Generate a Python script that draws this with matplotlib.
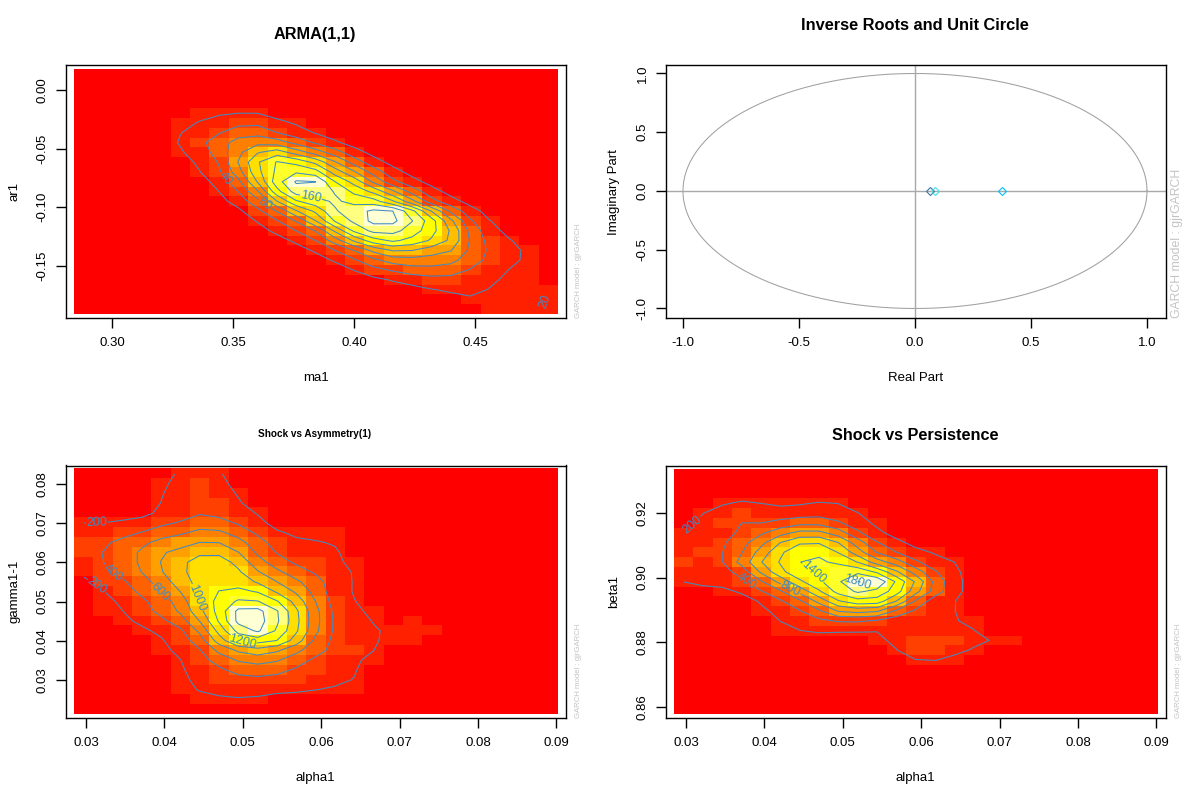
import numpy as np
import matplotlib
matplotlib.use("Agg")
from matplotlib import pyplot as plt
from matplotlib.colors import ListedColormap

plt.rcParams["font.family"] = ["Liberation Sans", "DejaVu Sans"]

W, H = 1200, 800
HEAT = ["#FF0000", "#FF2000", "#FF4000", "#FF6000", "#FF8000", "#FF9F00",
        "#FFBF00", "#FFDF00", "#FFFF00", "#FFFF2A", "#FFFF80", "#FFFFD5"]
LINE = "#3f8bc4"
MARK = "#c4c4c4"

# density grids, in colour bands (top row first)
arma_bands = [
    [0] * 25,
    [0] * 25,
    [0] * 25,
    [0] * 25,
    [0, 0, 0, 0, 0, 0, 1.1, 1.2, 1.3, 1.3, .9, 0, 0, 0, 0, 0, 0, 0, 0, 0, 0, 0, 0, 0, 0],
    [0, 0, 0, 0, 0, 1.1, 1.3, 1.6, 2.2, 2.3, 1.5, 1.2, .8, 0, 0, 0, 0, 0, 0, 0, 0, 0, 0, 0, 0],
    [0, 0, 0, 0, .8, 1.2, 1.7, 2.4, 3.2, 3.4, 2.4, 1.6, 1.1, .7, 0, 0, 0, 0, 0, 0, 0, 0, 0, 0, 0],
    [0, 0, 0, 0, .6, 1.4, 2.2, 3.3, 4.4, 4.7, 4.4, 3.3, 2.2, 1.3, .8, 0, 0, 0, 0, 0, 0, 0, 0, 0, 0],
    [0, 0, 0, 0, .5, 1.1, 1.8, 3.0, 4.7, 6.2, 7.2, 5.6, 4.4, 3.0, 1.6, .9, 0, 0, 0, 0, 0, 0, 0, 0, 0],
    [0, 0, 0, 0, 0, .8, 1.4, 2.4, 5.2, 7.6, 9.3, 8.6, 7.3, 5.2, 3.1, 1.6, .9, 0, 0, 0, 0, 0, 0, 0, 0],
    [0, 0, 0, 0, 0, .5, 1.2, 2.2, 4.5, 7.3, 9.0, 9.9, 9.5, 6.8, 5.2, 3.2, 1.6, .9, 0, 0, 0, 0, 0, 0, 0],
    [0, 0, 0, 0, 0, 0, .8, 1.5, 3.2, 6.4, 9.8, 11.9, 11.9, 8.7, 7.2, 4.6, 2.6, 1.5, .9, 0, 0, 0, 0, 0, 0],
    [0, 0, 0, 0, 0, 0, .5, 1.2, 2.4, 4.7, 8.5, 10.95, 10.9, 10.1, 8.4, 7.3, 5.3, 3.2, 1.6, .9, 0, 0, 0, 0, 0],
    [0, 0, 0, 0, 0, 0, 0, .9, 1.6, 3.2, 6.3, 8.8, 9.6, 10.4, 9.6, 9.4, 7.5, 5.2, 2.6, 1.5, .9, 0, 0, 0, 0],
    [0, 0, 0, 0, 0, 0, 0, .5, .9, 2.0, 3.6, 6.2, 7.6, 10.1, 10.8, 11.9, 11.9, 9.6, 6.4, 3.4, 1.6, .9, 0, 0, 0],
    [0, 0, 0, 0, 0, 0, 0, 0, .5, 1.3, 2.3, 3.6, 6.3, 9.2, 10.3, 11.9, 11.9, 10.2, 8.4, 5.4, 2.6, 1.2, .8, 0, 0],
    [0, 0, 0, 0, 0, 0, 0, 0, 0, .8, 1.5, 2.5, 3.5, 6.4, 9.3, 10.6, 10.5, 9.5, 8.0, 6.3, 3.4, 1.6, .9, 0, 0],
    [0, 0, 0, 0, 0, 0, 0, 0, 0, 0, .8, 1.4, 2.4, 4.3, 6.5, 8.4, 9.3, 8.5, 7.5, 6.2, 3.6, 2.0, 1.4, .8, 0],
    [0, 0, 0, 0, 0, 0, 0, 0, 0, 0, 0, .8, 1.3, 2.4, 3.6, 5.3, 6.4, 6.3, 5.5, 5.2, 3.5, 2.3, 1.4, 1.2, .7],
    [0, 0, 0, 0, 0, 0, 0, 0, 0, 0, 0, 0, .8, 1.3, 2.3, 3.4, 4.4, 4.5, 4.4, 4.2, 3.2, 2.2, 1.3, 1.2, .7],
    [0, 0, 0, 0, 0, 0, 0, 0, 0, 0, 0, 0, 0, .7, 1.2, 2.1, 2.6, 3.3, 3.4, 3.2, 2.4, 1.6, 1.2, 1.2, .7],
    [0, 0, 0, 0, 0, 0, 0, 0, 0, 0, 0, 0, 0, 0, .7, .9, 1.3, 1.6, 2.0, 2.0, 1.9, 1.3, 1.1, 1.2, .6],
    [0, 0, 0, 0, 0, 0, 0, 0, 0, 0, 0, 0, 0, 0, 0, 0, .7, .9, 1.2, 1.4, 1.4, 1.2, 1.1, 1.1, 1.2],
    [0, 0, 0, 0, 0, 0, 0, 0, 0, 0, 0, 0, 0, 0, 0, 0, 0, 0, .7, .9, 1.2, 1.3, 1.1, 1.1, 1.3],
    [0, 0, 0, 0, 0, 0, 0, 0, 0, 0, 0, 0, 0, 0, 0, 0, 0, 0, 0, .7, .9, 1.1, 1.2, 1.1, 1.3],
]

asym_bands = [
    [0, 0, 0, 0, .9, 1.6, 1.9, 1.5, .8, 0, 0, 0, 0, 0, 0, 0, 0, 0, 0, 0, 0, 0, 0, 0, 0],
    [0, 0, 0, 0, 1.2, 1.8, 2.4, 1.8, .95, 0, 0, 0, 0, 0, 0, 0, 0, 0, 0, 0, 0, 0, 0, 0, 0],
    [0, 0, 0, .8, 1.3, 1.9, 2.5, 1.9, 1.3, .7, 0, 0, 0, 0, 0, 0, 0, 0, 0, 0, 0, 0, 0, 0, 0],
    [0, 0, 0, .9, 1.4, 1.9, 2.6, 2.0, 1.5, .9, 0, 0, 0, 0, 0, 0, 0, 0, 0, 0, 0, 0, 0, 0, 0],
    [0, 0, .9, .9, 1.6, 1.9, 2.7, 2.3, 1.9, 1.3, .7, 0, 0, 0, 0, 0, 0, 0, 0, 0, 0, 0, 0, 0, 0],
    [1.5, 1.5, 1.6, 1.8, 2.4, 2.9, 3.5, 3.3, 2.6, 1.7, .9, 0, 0, 0, 0, 0, 0, 0, 0, 0, 0, 0, 0, 0, 0],
    [1.9, 1.9, 2.3, 2.8, 3.6, 3.9, 4.6, 4.5, 3.6, 2.5, 1.5, 1.2, 1.1, 1.1, .8, 0, 0, 0, 0, 0, 0, 0, 0, 0, 0],
    [2.3, 2.5, 3.2, 3.9, 4.6, 5.0, 5.6, 5.6, 4.7, 3.4, 2.0, 1.6, 1.5, 1.3, .9, 0, 0, 0, 0, 0, 0, 0, 0, 0, 0],
    [2.4, 2.8, 3.4, 4.4, 5.5, 5.9, 6.7, 6.7, 5.6, 3.8, 2.6, 1.9, 1.7, 1.6, .9, 0, 0, 0, 0, 0, 0, 0, 0, 0, 0],
    [1.9, 2.8, 3.3, 4.4, 5.6, 6.6, 7.7, 7.8, 6.6, 4.6, 3.4, 2.4, 2.2, 1.7, 1.0, 0, 0, 0, 0, 0, 0, 0, 0, 0, 0],
    [1.7, 2.6, 3.1, 4.2, 5.5, 6.6, 7.7, 7.8, 7.2, 5.6, 4.4, 3.4, 2.5, 1.8, 1.35, .7, 0, 0, 0, 0, 0, 0, 0, 0, 0],
    [.9, 2.0, 2.5, 3.5, 4.7, 6.3, 7.5, 7.8, 7.7, 6.7, 5.5, 4.4, 3.4, 1.9, 1.3, .7, 0, 0, 0, 0, 0, 0, 0, 0, 0],
    [.5, 1.3, 2.0, 3.1, 4.3, 5.5, 7.3, 8.4, 8.7, 8.3, 6.6, 5.3, 3.6, 1.9, 1.25, .8, 0, 0, 0, 0, 0, 0, 0, 0, 0],
    [0, 1.1, 1.5, 2.4, 3.4, 4.5, 7.2, 8.9, 9.9, 9.8, 8.5, 6.4, 4.1, 2.0, 1.4, .95, 0, 0, 0, 0, 0, 0, 0, 0, 0],
    [0, 1.0, 1.3, 2.2, 3.2, 4.3, 6.5, 8.8, 11.9, 11.9, 10.0, 7.2, 4.5, 2.3, 1.6, 1.1, .8, 0, 0, 0, 0, 0, 0, 0, 0],
    [0, .6, 1.2, 1.5, 2.4, 3.4, 5.5, 8.5, 11.9, 11.9, 10.0, 7.3, 4.5, 2.4, 1.7, 1.35, .9, 1.1, .8, 0, 0, 0, 0, 0, 0],
    [0, 0, .8, 1.2, 1.5, 2.3, 4.3, 7.4, 10.3, 11.9, 9.5, 7.2, 4.4, 2.4, 1.7, 1.5, 1.2, 1.2, 1.1, .7, 0, 0, 0, 0, 0],
    [0, 0, 0, .8, 1.2, 2.0, 3.3, 6.3, 8.8, 8.9, 8.6, 6.4, 3.6, 2.3, 1.7, 1.5, 1.1, 1.1, .7, 0, 0, 0, 0, 0, 0],
    [0, 0, 0, .6, 1.1, 1.6, 2.5, 4.5, 5.6, 6.4, 5.6, 4.4, 3.3, 2.3, 2.0, 1.4, .9, 0, 0, 0, 0, 0, 0, 0, 0],
    [0, 0, 0, 0, .8, 1.3, 2.2, 3.3, 4.3, 4.6, 4.3, 3.3, 2.4, 1.8, 1.5, 1.1, .7, 0, 0, 0, 0, 0, 0, 0, 0],
    [0, 0, 0, 0, .7, 1.2, 1.9, 2.4, 3.3, 3.5, 3.2, 2.5, 2.0, 1.7, 1.5, .9, 0, 0, 0, 0, 0, 0, 0, 0, 0],
    [0, 0, 0, 0, .5, 1.2, 1.6, 2.0, 2.2, 2.4, 2.2, 2.1, 1.9, 1.6, 1.4, .8, 0, 0, 0, 0, 0, 0, 0, 0, 0],
    [0, 0, 0, 0, 0, 1.1, 1.5, 1.7, 1.8, 1.8, 1.7, 1.6, 1.4, 1.3, 1.1, .7, 0, 0, 0, 0, 0, 0, 0, 0, 0],
    [0, 0, 0, 0, 0, .8, 1.1, 1.3, 1.4, 1.3, .9, .9, .8, .8, 0, 0, 0, 0, 0, 0, 0, 0, 0, 0, 0],
    [0] * 25,
]

pers_bands = [
    [0] * 25,
    [0] * 25,
    [0, 0, .7, .9, .8, 0, 0, .6, .6, 0, 0, 0, 0, 0, 0, 0, 0, 0, 0, 0, 0, 0, 0, 0, 0],
    [0, .7, 1.2, 1.4, 1.25, 1.1, 1.2, 1.4, 1.3, .8, 0, 0, 0, 0, 0, 0, 0, 0, 0, 0, 0, 0, 0, 0, 0],
    [.7, 1.3, 1.6, 2.0, 1.7, 1.6, 1.7, 1.9, 1.7, 1.3, .8, 0, 0, 0, 0, 0, 0, 0, 0, 0, 0, 0, 0, 0, 0],
    [.8, 1.5, 2.3, 2.6, 2.4, 2.9, 3.4, 3.4, 2.6, 1.7, 1.0, 0, 0, 0, 0, 0, 0, 0, 0, 0, 0, 0, 0, 0, 0],
    [1.3, 1.7, 1.9, 2.7, 3.5, 4.5, 5.4, 5.4, 4.4, 2.6, 1.4, .8, 0, 0, 0, 0, 0, 0, 0, 0, 0, 0, 0, 0, 0],
    [1.6, 1.7, 2.3, 3.3, 4.6, 6.4, 7.5, 7.6, 6.4, 4.4, 2.5, 1.5, .9, 0, 0, 0, 0, 0, 0, 0, 0, 0, 0, 0, 0],
    [1.7, 2.2, 2.4, 3.6, 5.5, 7.4, 8.7, 8.8, 7.5, 5.5, 3.5, 2.4, 1.5, 1.2, .8, 0, 0, 0, 0, 0, 0, 0, 0, 0, 0],
    [2.0, 1.9, 2.4, 4.4, 6.5, 7.7, 8.9, 9.0, 8.6, 7.5, 5.4, 4.4, 2.6, 1.6, 1.3, .8, 0, 0, 0, 0, 0, 0, 0, 0, 0],
    [1.4, 1.9, 1.9, 2.8, 5.3, 7.4, 8.6, 8.9, 9.7, 9.9, 8.6, 6.4, 4.4, 2.6, 1.4, .8, 0, 0, 0, 0, 0, 0, 0, 0, 0],
    [1.3, 1.7, 1.6, 2.1, 3.5, 5.4, 7.4, 8.6, 9.8, 11.9, 11.9, 8.8, 6.4, 3.4, 1.5, .8, 0, 0, 0, 0, 0, 0, 0, 0, 0],
    [.5, .8, 1.0, 1.3, 2.4, 3.4, 5.4, 7.4, 9.5, 10.4, 9.6, 8.4, 5.5, 3.3, 1.5, .8, 0, 0, 0, 0, 0, 0, 0, 0, 0],
    [0, 0, 0, .8, 1.2, 2.3, 3.3, 5.4, 7.5, 8.5, 8.6, 6.4, 3.4, 1.4, 1.3, .7, 0, 0, 0, 0, 0, 0, 0, 0, 0],
    [0, 0, 0, .5, 1.1, 1.4, 2.4, 3.4, 5.3, 5.5, 5.3, 3.3, 2.2, 1.4, 1.3, .9, 0, 0, 0, 0, 0, 0, 0, 0, 0],
    [0, 0, 0, 0, .7, 1.3, 1.6, 2.2, 2.5, 2.5, 2.2, 1.5, 1.4, 1.3, 1.3, 1.1, .7, 0, 0, 0, 0, 0, 0, 0, 0],
    [0, 0, 0, 0, .5, 1.1, 1.25, 1.4, 1.3, 1.3, 1.2, 1.2, 1.6, 1.8, 1.5, 1.3, .8, 0, 0, 0, 0, 0, 0, 0, 0],
    [0, 0, 0, 0, 0, .6, .7, .8, .7, .7, 1.0, 1.5, 2.6, 2.6, 2.0, 1.5, 1.3, 1.1, .5, 0, 0, 0, 0, 0, 0],
    [0, 0, 0, 0, 0, 0, 0, 0, 0, 0, .7, 1.2, 2.1, 2.2, 1.4, 1.2, .8, 0, 0, 0, 0, 0, 0, 0, 0],
    [0, 0, 0, 0, 0, 0, 0, 0, 0, 0, 0, .7, 1.25, 1.3, 1.1, .7, 0, 0, 0, 0, 0, 0, 0, 0, 0],
    [0, 0, 0, 0, 0, 0, 0, 0, 0, 0, 0, 0, .6, .6, 0, 0, 0, 0, 0, 0, 0, 0, 0, 0, 0],
    [0] * 25,
    [0] * 25,
    [0] * 25,
    [0] * 25,
]

arma_levels = [20, 40, 60, 80, 100, 120, 140, 160, 180]
asym_levels = [200, 400, 600, 800, 1000, 1200, 1400, 1600]
pers_levels = [200, 400, 600, 800, 1000, 1200, 1400, 1600, 1800]

# where the contour labels sit, in data units
arma_labels = {20: [(.4715, -.1782)], 40: [(.3471, -.0750)], 60: [(.3640, -.0937)], 160: [(.3822, -.0920)]}
asym_labels = {200: [(.0314, .0698), (.0308, .0524)], 400: [(.0331, .0560)], 600: [(.0384, .0496)],
               1000: [(.0430, .0504)], 1200: [(.0500, .0400)]}
pers_labels = {200: [(.0307, .9170)], 400: [(.0372, .8975)], 800: [(.0435, .8972)],
               1400: [(.0460, .9005)], 1800: [(.0518, .8960)]}

root_re = [0.065, 0.086, 0.376]
root_im = [0.0, 0.0, 0.0]
root_colors = ["#3a76a8", "#40e0e0", "#00bfff"]


def box(left, top, right, bottom):
    return fig.add_axes([left / W, 1 - bottom / H, (right - left) / W, (bottom - top) / H])


def style(ax, xlim, ylim, xticks, yticks, fmt, xlabel, ylabel):
    ax.set_xlim(xlim)
    ax.set_ylim(ylim)
    ax.set_xticks(xticks, [fmt % t for t in xticks])
    ax.set_yticks(yticks, [fmt % t for t in yticks], rotation=90, va="center")
    ax.tick_params(direction="out", length=7, width=1, labelsize=9.5)
    ax.tick_params(axis="x", pad=7)
    ax.tick_params(axis="y", pad=5)
    ax.set_xlabel(xlabel, fontsize=9.5)
    ax.set_ylabel(ylabel, fontsize=9.5)
    ax.xaxis.set_label_coords(0.5, -0.214)
    ax.yaxis.set_label_coords(-0.09, 0.5)
    for s in ax.spines.values():
        s.set_linewidth(1)


def soften(z):
    # the colour bands are coarse, ease the steps so contours run smooth
    p = np.pad(z, 1, mode="edge")
    z = .8 * p[1:-1, 1:-1] + .1 * (p[:-2, 1:-1] + p[2:, 1:-1])
    p = np.pad(z, 1, mode="edge")[1:-1]
    return .8 * p[:, 1:-1] + .1 * (p[:, :-2] + p[:, 2:])


def density(ax, bands, band, extent, levels, labels):
    z = np.array(bands, dtype=float) * band
    ax.imshow(z, extent=extent, origin="upper", aspect="auto", interpolation="nearest",
              cmap=ListedColormap(HEAT), vmin=0, vmax=12 * band, zorder=1)
    nrow, ncol = z.shape
    dx = (extent[1] - extent[0]) / ncol
    dy = (extent[3] - extent[2]) / nrow
    xs = extent[0] + dx * (np.arange(ncol) + .5)
    ys = extent[3] - dy * (np.arange(nrow) + .5)
    zs = soften(z)
    # one contour set per level, clabel cannot pick a level out of a bigger set
    for lev in levels:
        cs = ax.contour(xs, ys, zs, levels=[lev], colors=LINE, linewidths=.75, zorder=2)
        if lev in labels:
            ax.clabel(cs, manual=labels[lev], fontsize=9, fmt="%d", inline=True,
                      inline_spacing=1, colors=LINE)


fig = plt.figure(figsize=(W / 100, H / 100), dpi=100)

# ARMA(1,1)
ax = box(65.5, 65.5, 566, 318)
density(ax, arma_bands, 16, [.2843, .4839, -.1910, .0179], arma_levels, arma_labels)
style(ax, (.2808, .4876), (-.1944, .0209), [.30, .35, .40, .45], [0, -.05, -.10, -.15],
      "%.2f", "ma1", "ar1")

# unit circle
ax = box(665.5, 65.5, 1166, 318)
theta = np.linspace(0, 2 * np.pi, 400)
ax.plot(np.cos(theta), np.sin(theta), color="#a0a0a0", lw=.75)
ax.axhline(0, color="#a8a8a8", lw=1)
ax.axvline(0, color="#a8a8a8", lw=1)
for re, im, c in zip(root_re, root_im, root_colors):
    ax.plot(re, im, marker="D", ms=4.2, mfc="none", mec=c, mew=.8, ls="none", zorder=3)
style(ax, (-1.0754, 1.0819), (-1.081, 1.068), [-1, -.5, 0, .5, 1], [-1, -.5, 0, .5, 1],
      "%.1f", "Real Part", "Imaginary Part")

# Shock vs Asymmetry
ax = box(65.5, 465.5, 566, 718)
density(ax, asym_bands, 145, [.0285, .0901, .0213, .0838], asym_levels, asym_labels)
style(ax, (.02739, .09122), (.02031, .08472), [.03, .04, .05, .06, .07, .08, .09],
      [.03, .04, .05, .06, .07, .08], "%.2f", "alpha1", "gamma1-1")

# Shock vs Persistence
ax = box(665.5, 465.5, 1166, 718)
density(ax, pers_bands, 160, [.0285, .0901, .8578, .9336], pers_levels, pers_labels)
style(ax, (.02739, .09122), (.8565, .9347), [.03, .04, .05, .06, .07, .08, .09],
      [.86, .88, .90, .92], "%.2f", "alpha1", "beta1")

# titles, R places them by hand in the outer margin
fig.text(315 / W, 1 - 35 / H, "ARMA(1,1)", fontsize=11.7, fontweight="bold", ha="center", va="center")
fig.text(915 / W, 1 - 25.5 / H, "Inverse Roots and Unit Circle", fontsize=11.8, fontweight="bold",
         ha="center", va="center")
fig.text(315 / W, 1 - 434 / H, "Shock vs Asymmetry(1)", fontsize=7.2, fontweight="bold", ha="center", va="center")
fig.text(915 / W, 1 - 435.5 / H, "Shock vs Persistence", fontsize=11.7, fontweight="bold", ha="center", va="center")

wm = "GARCH model : gjrGARCH"
fig.text(579 / W, 1 - 318 / H, wm, fontsize=5.6, color=MARK, rotation=90, ha="center", va="bottom")
fig.text(1177 / W, 1 - 318 / H, wm, fontsize=8.8, color=MARK, rotation=90, ha="center", va="bottom")
fig.text(579 / W, 1 - 718 / H, wm, fontsize=5.6, color=MARK, rotation=90, ha="center", va="bottom")
fig.text(1178 / W, 1 - 718 / H, wm, fontsize=5.6, color=MARK, rotation=90, ha="center", va="bottom")

fig.savefig("out.png", dpi=100)
